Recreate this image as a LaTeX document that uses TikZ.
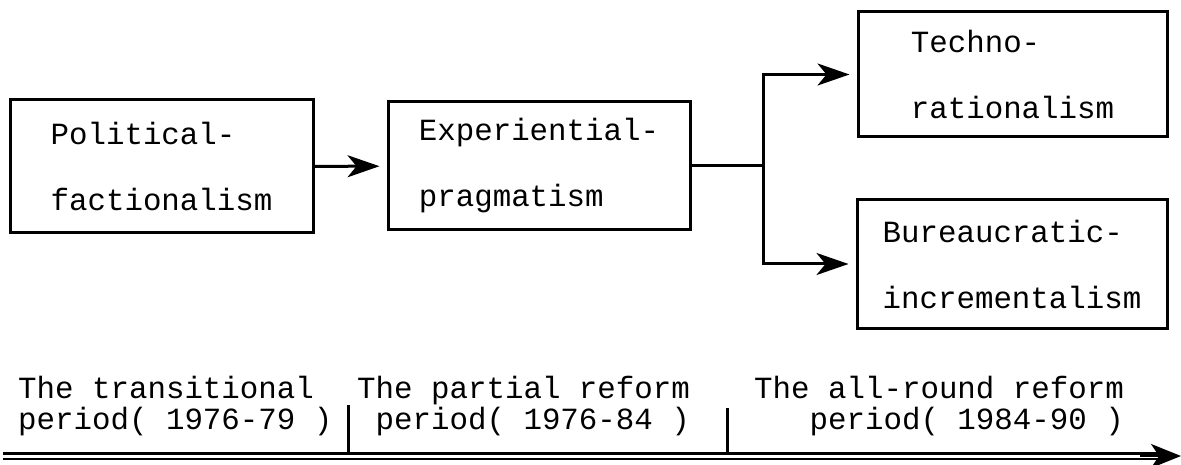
\documentclass[tikz,border=0pt]{standalone}
\usepackage{fontspec}
\setmonofont{Liberation Mono}
\usetikzlibrary{arrows.meta}
\tikzset{
    RB/.style ={rectangle, draw, line width=3pt, align=left, inner sep=0pt,
                font=\ttfamily\fontsize{30.8pt}{66pt}\selectfont},
    TL/.style ={anchor=base west, align=left, inner sep=0pt,
                font=\ttfamily\fontsize{30.8pt}{31pt}\selectfont},
    AR/.style ={line width=3pt, -{Stealth[length=32pt,width=22pt,inset=9pt]}, shorten >=7pt},
    LN/.style ={line width=3pt}}

\begin{document}
\begin{tikzpicture}[x=1pt,y=-1pt]
        \useasboundingbox (0,0) rectangle (1181,465);
        % the four boxes
        \node[RB, minimum width=303pt, minimum height=133pt] (pf) at (161.5,166.5) {Political-\\factionalism};
        \node[RB, minimum width=302pt, minimum height=128pt] (ep) at (539,166) {Experiential-\\pragmatism};
        \node[RB, minimum width=309pt, minimum height=125pt] (tr) at (1012.5,74.5) {Techno-\\rationalism};
        \node[RB, minimum width=310pt, minimum height=128pt] (bi) at (1012,264) {Bureaucratic-\\incrementalism};
        \coordinate (fork) at (763,166);
        \draw[AR] (pf) -- (ep);
        \draw[LN] (ep.east) -- (fork);
        \draw[AR] (fork) |- (tr);
        \draw[AR] (fork) |- (bi);
        % time axis
        \coordinate (t0) at (3,456);
        \coordinate (t1) at (1160,456);
        \coordinate (t2) at (1181,456);
        \draw[line width=2.6pt, double=white, double distance=3pt] (t0) -- (t1);
        \draw[line width=2.6pt, -{Stealth[length=30pt,width=24pt,inset=8pt]}] (1140,456) -- (t2);
        \coordinate (d1) at (348,405);
        \coordinate (d1b) at (348,453);
        \coordinate (d2) at (727,408);
        \coordinate (d2b) at (727,453);
        \draw[LN] (d1) -- (d1b);
        \draw[LN] (d2) -- (d2b);
        \node[TL] (p1) at (18,429) {The transitional\\period( 1976-79 )};
        \node[TL] (p2) at (357,429) {The partial reform\\\hspace*{0.6em}period( 1976-84 )};
        \node[TL] (p3) at (754,429) {The all-round reform\\\hspace*{1.8em}period( 1984-90 )};
\end{tikzpicture}
\end{document}
